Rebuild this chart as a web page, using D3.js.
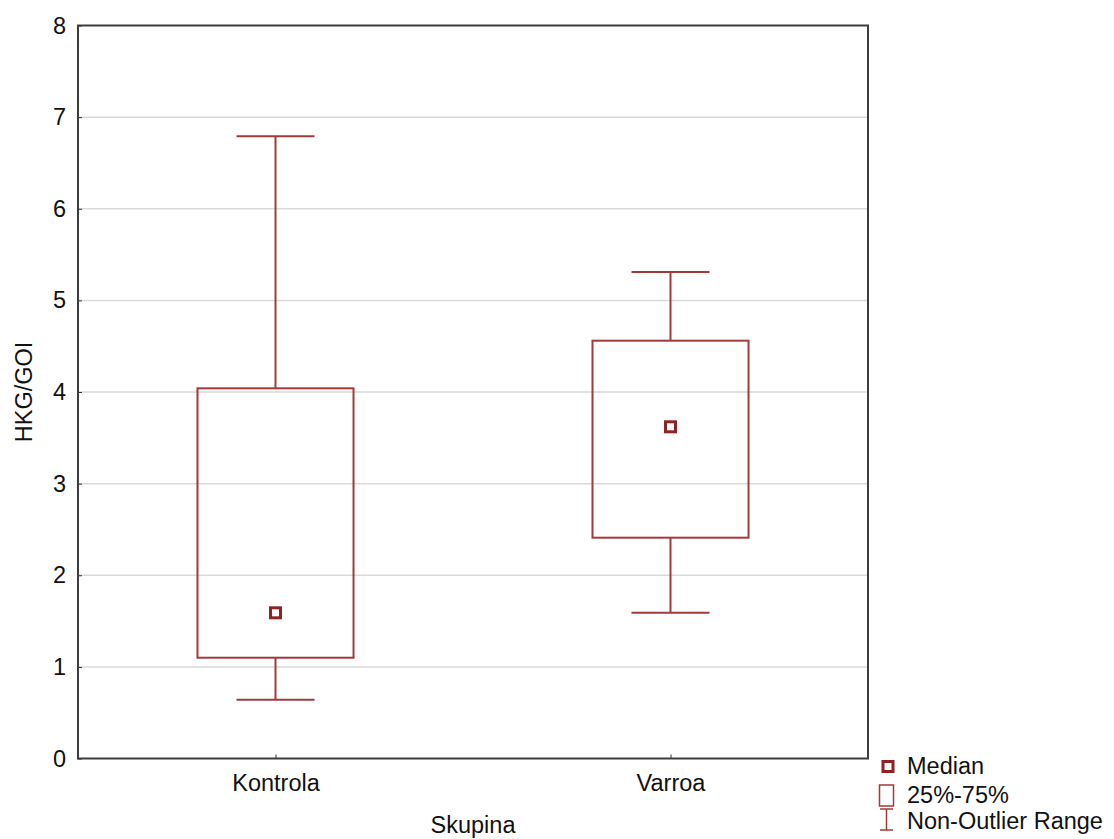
<!DOCTYPE html>
<html><head><meta charset="utf-8">
<script src="https://cdn.jsdelivr.net/npm/d3@7"></script>
<style>body{margin:0;background:#fff}text{font-family:"Liberation Sans",Arial,sans-serif;fill:#111}</style>
</head><body>
<svg id="c" width="1114" height="839"></svg>
<script>
const categories = ["Kontrola", "Varroa"];
const whiskerLow = [0.64, 1.59];
const q1 = [1.10, 2.41];
const median = [1.59, 3.62];
const q3 = [4.04, 4.56];
const whiskerHigh = [6.79, 5.31];
const yTicks = [0,1,2,3,4,5,6,7,8];
const legendLabels = ["Median", "25%-75%", "Non-Outlier Range"];

const svg = d3.select("#c");
const L = 78, R = 868, T = 25.5, B = 758.5;
const red = "#a33a3a", darkRed = "#8e2323";
const FS = 23.5;
const x = d3.scalePoint().domain(categories).range([L, R]).padding(0.5);
const y = d3.scaleLinear().domain([0, 8]).range([B, T]);
const step = x.step();
const boxW = step * 0.395;

// grid
svg.append("g").selectAll("line").data(yTicks.filter(d => d > 0 && d < 8)).join("line")
  .attr("x1", L).attr("x2", R).attr("y1", d => y(d)).attr("y2", d => y(d))
  .attr("stroke", "#d9d9d9").attr("stroke-width", 1.5);

// axes
const ya = svg.append("g").attr("transform", `translate(${L},0)`)
  .call(d3.axisLeft(y).tickValues(yTicks).tickSize(-4).tickPadding(12).tickFormat(d3.format("d")));
ya.select(".domain").remove();
ya.selectAll("line").attr("stroke", "#333");
ya.selectAll("text").attr("font-size", FS).attr("fill", "#111").attr("font-family", '"Liberation Sans",Arial,sans-serif');

const xa = svg.append("g").attr("transform", `translate(0,${B})`)
  .call(d3.axisBottom(x).tickSize(-4).tickPadding(16));
xa.select(".domain").remove();
xa.selectAll("line").attr("stroke", "#333");
xa.selectAll("text").attr("font-size", FS).attr("fill", "#111").attr("font-family", '"Liberation Sans",Arial,sans-serif');

// frame
svg.append("rect").attr("x", L).attr("y", T).attr("width", R - L).attr("height", B - T)
  .attr("fill", "none").attr("stroke", "#3c3c3c").attr("stroke-width", 2);

// boxes
const g = svg.append("g").selectAll("g").data(categories).join("g");
g.append("line").attr("x1", d => x(d)).attr("x2", d => x(d))
  .attr("y1", (d, i) => y(whiskerHigh[i])).attr("y2", (d, i) => y(q3[i]))
  .attr("stroke", red).attr("stroke-width", 2);
g.append("line").attr("x1", d => x(d)).attr("x2", d => x(d))
  .attr("y1", (d, i) => y(q1[i])).attr("y2", (d, i) => y(whiskerLow[i]))
  .attr("stroke", red).attr("stroke-width", 2);
[whiskerHigh, whiskerLow].forEach(arr => {
  g.append("line").attr("x1", d => x(d) - boxW / 4).attr("x2", d => x(d) + boxW / 4)
    .attr("y1", (d, i) => y(arr[i])).attr("y2", (d, i) => y(arr[i]))
    .attr("stroke", red).attr("stroke-width", 2);
});
g.append("rect").attr("x", d => x(d) - boxW / 2).attr("width", boxW)
  .attr("y", (d, i) => y(q3[i])).attr("height", (d, i) => y(q1[i]) - y(q3[i]))
  .attr("fill", "none").attr("stroke", red).attr("stroke-width", 2);
g.append("rect").attr("x", d => x(d) - 5).attr("width", 10)
  .attr("y", (d, i) => y(median[i]) - 5).attr("height", 10)
  .attr("fill", "#fff").attr("stroke", darkRed).attr("stroke-width", 3);

// axis titles
svg.append("text").attr("x", (L + R) / 2).attr("y", 833).attr("text-anchor", "middle")
  .attr("font-size", FS).text("Skupina");
svg.append("text").attr("transform", `translate(32,${(T + B) / 2}) rotate(-90)`)
  .attr("text-anchor", "middle").attr("font-size", FS).text("HKG/GOI");

// legend
const lg = svg.append("g");
lg.append("rect").attr("x", 883).attr("y", 761.5).attr("width", 10).attr("height", 10)
  .attr("fill", "#fff").attr("stroke", darkRed).attr("stroke-width", 3);
lg.append("rect").attr("x", 879.5).attr("y", 785).attr("width", 14).attr("height", 21)
  .attr("fill", "none").attr("stroke", red).attr("stroke-width", 1.5);
lg.append("line").attr("x1", 886.5).attr("x2", 886.5).attr("y1", 809).attr("y2", 830).attr("stroke", red).attr("stroke-width", 1.5);
lg.append("line").attr("x1", 880).attr("x2", 893).attr("y1", 809).attr("y2", 809).attr("stroke", red).attr("stroke-width", 1.5);
lg.append("line").attr("x1", 880).attr("x2", 893).attr("y1", 830).attr("y2", 830).attr("stroke", red).attr("stroke-width", 1.5);
const lgY = [774, 803, 829];
lg.selectAll("text.l").data(legendLabels).join("text").attr("class", "l")
  .attr("x", 907).attr("y", (d, i) => lgY[i]).attr("font-size", FS).text(d => d);
</script>
</body></html>
